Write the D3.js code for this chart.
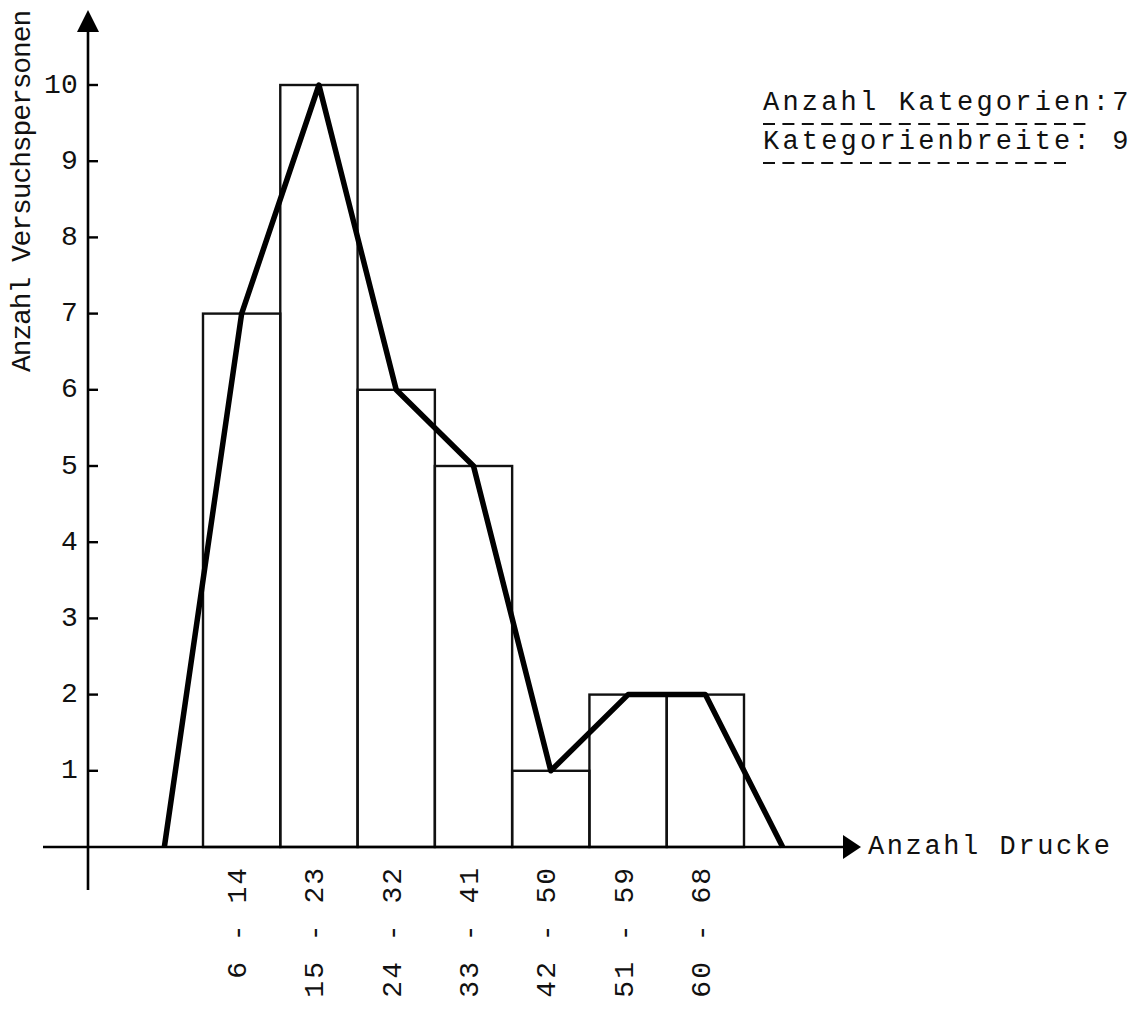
<!DOCTYPE html>
<html>
<head>
<meta charset="utf-8">
<script src="https://cdn.jsdelivr.net/npm/d3@7/dist/d3.min.js"></script>
<style>
  html, body { margin: 0; padding: 0; background: #fff; }
  svg { display: block; }
  text { font-family: "Liberation Mono", "DejaVu Sans Mono", monospace; fill: #111; }
</style>
</head>
<body>
<svg id="chart" width="1142" height="1019"></svg>
<script>
// ---- data ----
const classLabels = ["6 - 14", "15 - 23", "24 - 32", "33 - 41", "42 - 50", "51 - 59", "60 - 68"];
const classLower = [6, 15, 24, 33, 42, 51, 60];
const classUpper = [14, 23, 32, 41, 50, 59, 68];
const counts = [7, 10, 6, 5, 1, 2, 2];
const yTicks = [1, 2, 3, 4, 5, 6, 7, 8, 9, 10];
const emptyMidLeft = 1;    // midpoint of empty class -3..5
const emptyMidRight = 73;  // midpoint of empty class 69..77
const yTitle = "Anzahl Versuchspersonen";
const xTitle = "Anzahl Drucke";
const infoLines = ["Anzahl Kategorien:7", "Kategorienbreite: 9"];
const infoUnderlineChars = [17, 16];

// ---- layout ----
const svg = d3.select("#chart");
const axisX = 88, axisY = 847;
const x = d3.scaleLinear().domain([5.5, 68.5]).range([203, 744]);
const y = d3.scaleLinear().domain([0, 10]).range([axisY, 85]);

const bars = classLower.map((lo, i) => ({
  x0: lo - 0.5, x1: classUpper[i] + 0.5, mid: (lo + classUpper[i]) / 2, v: counts[i], label: classLabels[i]
}));

// bars (histogram)
svg.append("g").selectAll("rect").data(bars).join("rect")
  .attr("x", d => x(d.x0))
  .attr("y", d => y(d.v))
  .attr("width", d => x(d.x1) - x(d.x0))
  .attr("height", d => y(0) - y(d.v))
  .attr("fill", "none")
  .attr("stroke", "#111")
  .attr("stroke-width", 2.4);

// frequency polygon
const polyPts = [[emptyMidLeft, 0]].concat(bars.map(d => [d.mid, d.v])).concat([[emptyMidRight, 0]]);
svg.append("path")
  .attr("d", d3.line().x(d => x(d[0])).y(d => y(d[1]))(polyPts))
  .attr("fill", "none")
  .attr("stroke", "#000")
  .attr("stroke-width", 5.5)
  .attr("stroke-linejoin", "round");

// axes
const axes = svg.append("g").attr("stroke", "#000").attr("stroke-width", 2.6);
axes.append("line").attr("x1", axisX).attr("x2", axisX).attr("y1", 28).attr("y2", 890);
axes.append("line").attr("x1", 43).attr("x2", 846).attr("y1", axisY).attr("y2", axisY);
svg.append("path").attr("d", `M${axisX},10 L${axisX - 11},32 L${axisX + 11},32 Z`).attr("fill", "#000");
svg.append("path").attr("d", `M861,${axisY} L843,${axisY - 12} L843,${axisY + 12} Z`).attr("fill", "#000");

// y ticks
const yt = svg.append("g");
yt.selectAll("line").data(yTicks).join("line")
  .attr("x1", axisX).attr("x2", axisX + 10)
  .attr("y1", d => y(d)).attr("y2", d => y(d))
  .attr("stroke", "#000").attr("stroke-width", 2.4);
yt.selectAll("text").data(yTicks).join("text")
  .attr("x", 78).attr("y", d => y(d))
  .attr("text-anchor", "end").attr("dominant-baseline", "central")
  .style("font-size", "28px").style("letter-spacing", "0.2px")
  .text(d => d);

// x category labels (rotated)
svg.append("g").selectAll("text").data(bars).join("text")
  .attr("transform", d => `translate(${x(d.mid) - 3},866) rotate(-90)`)
  .attr("text-anchor", "end").attr("dominant-baseline", "central")
  .style("font-size", "28px").style("letter-spacing", "2px")
  .text(d => d.label);

// axis titles
svg.append("text")
  .attr("transform", "translate(22,372) rotate(-90)")
  .attr("text-anchor", "start").attr("dominant-baseline", "central")
  .style("font-size", "28px").style("letter-spacing", "-1.1px")
  .text(yTitle);
svg.append("text")
  .attr("x", 868).attr("y", axisY)
  .attr("dominant-baseline", "central")
  .style("font-size", "27px").style("letter-spacing", "2.6px")
  .text(xTitle);

// info text
const pitch = 0.6 * 27 + 3.2;
const infoY = [103, 142];
infoLines.forEach((t, i) => {
  svg.append("text")
    .attr("x", 763).attr("y", infoY[i])
    .attr("dominant-baseline", "central")
    .style("font-size", "27px").style("letter-spacing", "3.2px")
    .text(t);
  svg.append("line")
    .attr("x1", 763).attr("x2", 763 + infoUnderlineChars[i] * pitch)
    .attr("y1", infoY[i] + 21).attr("y2", infoY[i] + 21)
    .attr("stroke", "#111").attr("stroke-width", 2)
    .attr("stroke-dasharray", "12 " + (pitch - 12).toFixed(1));
});
</script>
</body>
</html>
